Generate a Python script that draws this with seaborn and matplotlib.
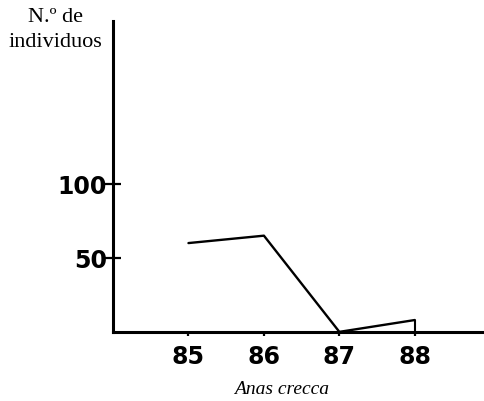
import matplotlib
matplotlib.use('Agg')
import matplotlib.pyplot as plt
import seaborn as sns
import pandas as pd

# data (Anas crecca, number of individuals per year)
years = [85, 86, 87, 88]
individuos = [60, 65, 0, 8]
y_ticks = [50, 100]
x_ticks = [85, 86, 87, 88]

sns.set_style('white')
plt.rcParams['font.family'] = ['DejaVu Sans']

df = pd.DataFrame({'year': years, 'n': individuos})

fig = plt.figure(figsize=(4.85, 4.02), dpi=100)
ax = fig.add_axes([0.233, 0.172, 0.767, 0.773])

sns.lineplot(data=df, x='year', y='n', ax=ax, color='black', linewidth=1.7)
# the last point drops back to the axis
ax.vlines(years[-1], 0, individuos[-1], color='black', linewidth=1.5)

ax.set_xlim(84.0, 88.93)
ax.set_ylim(0, 210)

for side in ['top', 'right']:
    ax.spines[side].set_visible(False)
for side in ['left', 'bottom']:
    ax.spines[side].set_linewidth(2.2)
    ax.spines[side].set_color('black')

ax.set_yticks(y_ticks)
ax.set_yticklabels([str(v) for v in y_ticks], fontsize=17, fontweight='bold', color='black')
ax.set_xticks(x_ticks)
ax.set_xticklabels([str(v) for v in x_ticks], fontsize=17, fontweight='bold', color='black')
ax.tick_params(axis='y', direction='inout', length=11, width=1.6, pad=-1, left=True, color='black')
ax.tick_params(axis='x', direction='out', length=3, width=1.6, pad=6, bottom=True, color='black')

ax.set_xlabel('')
ax.set_ylabel('')

fig.text(0.115, 0.925, 'N.º de\nindividuos', ha='center', va='center',
         fontsize=16, family='Liberation Serif', linespacing=1.4, color='black')
fig.text(0.58, 0.03, 'Anas crecca', ha='center', va='center',
         fontsize=14, family='Liberation Serif', style='italic', color='black')

fig.savefig('out.png', dpi=100, facecolor='white')
